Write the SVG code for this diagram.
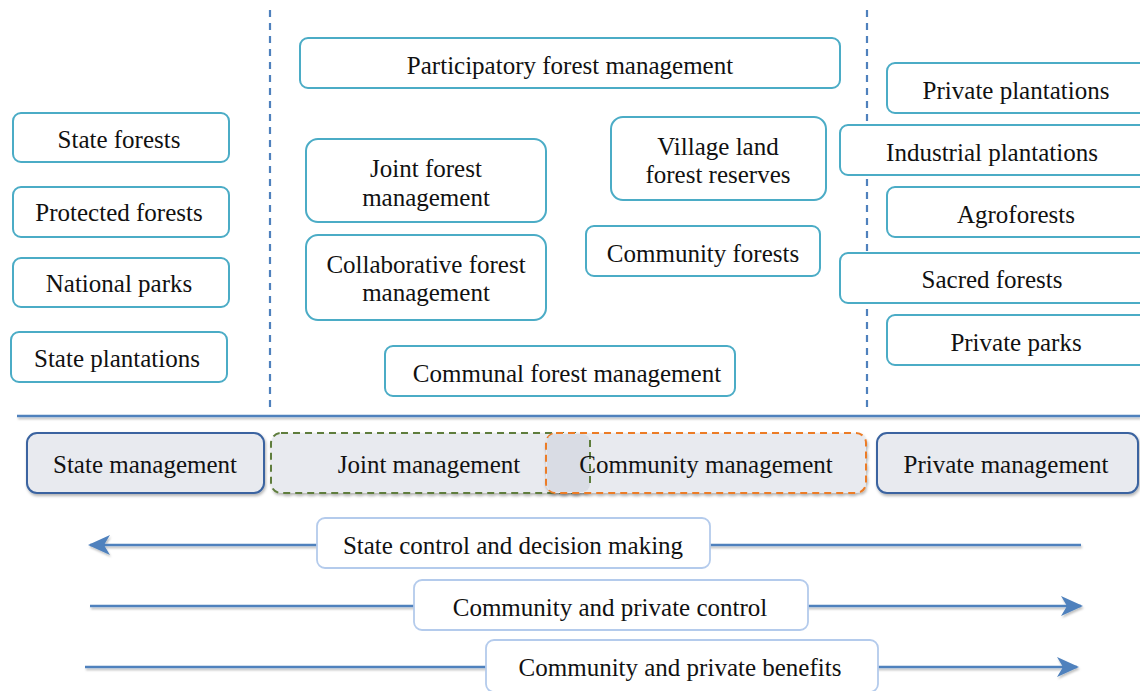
<svg xmlns="http://www.w3.org/2000/svg" width="1140" height="691" viewBox="0 0 1140 691">
<style>
text{font-family:"Liberation Serif","Times New Roman",serif;font-size:25px;fill:#111;text-anchor:middle}
.n{fill:#fff;stroke:#4bacc6;stroke-width:2}
.m{fill:#e8eaef;stroke:#3b64a0;stroke-width:2}
.lab{fill:#fff;stroke:#b4cbec;stroke-width:1.8}
.ar{stroke:#4f81bd;stroke-width:2.5;fill:none}
.sep{stroke:#4f81bd;stroke-width:2.2;stroke-dasharray:7 6;fill:none}
</style>
<defs>
<filter id="sh" x="-10%" y="-30%" width="120%" height="160%">
<feDropShadow dx="1" dy="2" stdDeviation="1.5" flood-color="#000" flood-opacity="0.3"/>
</filter>
<filter id="lsh" filterUnits="userSpaceOnUse" x="0" y="0" width="1140" height="691">
<feDropShadow dx="1" dy="2" stdDeviation="1.2" flood-color="#000" flood-opacity="0.25"/>
</filter>
<marker id="ah" viewBox="0 0 22 20" refX="20" refY="10" markerWidth="22" markerHeight="20" markerUnits="userSpaceOnUse" orient="auto">
<path d="M0,0 L22,10 L0,20 L6,10 Z" fill="#4f81bd"/>
</marker>
</defs>
<rect width="1140" height="691" fill="#fff"/>
<g id="separators">
<line class="sep" x1="270" y1="10" x2="270" y2="412"/>
<line class="sep" x1="867" y1="10" x2="867" y2="412"/>
<line x1="17" y1="416" x2="1140" y2="416" stroke="#4f81bd" stroke-width="2.5" filter="url(#lsh)"/>
</g>
<g id="n-state-forests"><rect class="n" x="13" y="113" width="216" height="49" rx="8"/><text x="119" y="148">State forests</text></g>
<g id="n-protected-forests"><rect class="n" x="13" y="187" width="216" height="50" rx="8"/><text x="119" y="221">Protected forests</text></g>
<g id="n-national-parks"><rect class="n" x="13" y="258" width="216" height="49" rx="8"/><text x="119" y="292">National parks</text></g>
<g id="n-state-plantations"><rect class="n" x="11" y="332" width="216" height="50" rx="8"/><text x="117" y="367">State plantations</text></g>
<g id="n-participatory"><rect class="n" x="300" y="38" width="540" height="50" rx="8"/><text x="570" y="74">Participatory forest management</text></g>
<g id="n-joint-forest"><rect class="n" x="306" y="139" width="240" height="83" rx="12"/><text x="426" y="177">Joint forest</text><text x="426" y="206">management</text></g>
<g id="n-collaborative"><rect class="n" x="306" y="235" width="240" height="85" rx="12"/><text x="426" y="273">Collaborative forest</text><text x="426" y="301">management</text></g>
<g id="n-village"><rect class="n" x="611" y="117" width="215" height="83" rx="12"/><text x="718" y="155">Village land</text><text x="718" y="183">forest reserves</text></g>
<g id="n-community-forests"><rect class="n" x="586" y="226" width="234" height="50" rx="8"/><text x="703" y="262">Community forests</text></g>
<g id="n-communal"><rect class="n" x="385" y="346" width="350" height="50" rx="8"/><text x="567" y="382">Communal forest management</text></g>
<g id="n-private-plantations"><rect class="n" x="887" y="63" width="280" height="50" rx="8"/><text x="1016" y="99">Private plantations</text></g>
<g id="n-industrial"><rect class="n" x="840" y="125" width="330" height="50" rx="8"/><text x="992" y="161">Industrial plantations</text></g>
<g id="n-agroforests"><rect class="n" x="887" y="187" width="280" height="50" rx="8"/><text x="1016" y="223">Agroforests</text></g>
<g id="n-sacred"><rect class="n" x="840" y="253" width="330" height="50" rx="8"/><text x="992" y="288">Sacred forests</text></g>
<g id="n-private-parks"><rect class="n" x="887" y="315" width="280" height="50" rx="8"/><text x="1016" y="351">Private parks</text></g>
<g id="m-state"><rect class="m" x="27" y="433" width="237" height="60" rx="10" filter="url(#sh)"/><text x="145" y="473">State management</text></g>
<g id="m-joint"><rect x="271" y="433" width="319" height="60" rx="10" fill="#e8eaef" stroke="#5e7d3c" stroke-width="2" stroke-dasharray="7 5" filter="url(#sh)"/><text x="429" y="473">Joint management</text></g>
<g id="m-community"><rect x="546" y="433" width="320" height="60" rx="10" fill="#e8eaef" stroke="#ec7c26" stroke-width="2" stroke-dasharray="7 5" filter="url(#sh)"/><rect x="547" y="434" width="43" height="58" rx="8" fill="#d9dce4"/><line x1="590" y1="440" x2="590" y2="487" stroke="#5e7d3c" stroke-width="2" stroke-dasharray="7 5"/><text x="706" y="473">Community management</text></g>
<g id="m-private"><rect class="m" x="877" y="433" width="261" height="60" rx="10" filter="url(#sh)"/><text x="1006" y="473">Private management</text></g>
<g id="connectors">
<line class="ar" x1="1081" y1="545" x2="90" y2="545" marker-end="url(#ah)" filter="url(#lsh)"/>
<line class="ar" x1="90" y1="606" x2="1081" y2="606" marker-end="url(#ah)" filter="url(#lsh)"/>
<line class="ar" x1="85" y1="667" x2="1077" y2="667" marker-end="url(#ah)" filter="url(#lsh)"/>
</g>
<g id="l-state-control"><rect class="lab" x="317" y="518" width="393" height="50" rx="8"/><text x="513" y="554">State control and decision making</text></g>
<g id="l-community-control"><rect class="lab" x="414" y="580" width="394" height="50" rx="8"/><text x="610" y="616">Community and private control</text></g>
<g id="l-community-benefits"><rect class="lab" x="486" y="640" width="392" height="52" rx="8"/><text x="680" y="676">Community and private benefits</text></g>
</svg>
